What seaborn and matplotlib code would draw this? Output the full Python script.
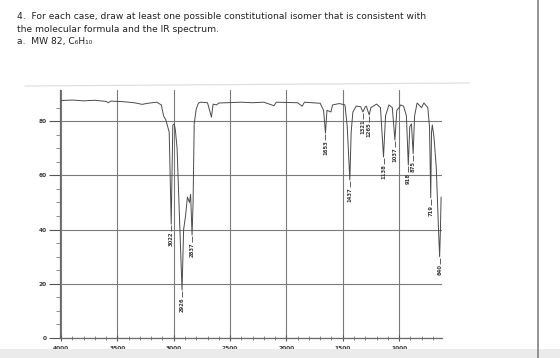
import numpy as np
import matplotlib.pyplot as plt
import seaborn as sns
from matplotlib.lines import Line2D
from matplotlib.patches import Rectangle

sns.set_theme(style="white")
plt.rcParams['font.family'] = ['DejaVu Sans']

# ---- texto del enunciado ----
question_lines = [
    "4.  For each case, draw at least one possible constitutional isomer that is consistent with",
    "the molecular formula and the IR spectrum.",
    "a.  MW 82, C\u2086H\u2081\u2080",
]

# ---- espectro IR ----
wavenumber = [4000, 3900, 3800, 3700, 3600, 3580, 3560, 3450, 3350, 3280, 3230, 3150,
              3110, 3090, 3070, 3040, 3022, 3008, 2995, 2985, 2970, 2945, 2926, 2912,
              2895, 2878, 2860, 2850, 2837, 2828, 2818, 2800, 2780, 2760, 2700, 2665,
              2650, 2620, 2600, 2400, 2300, 2200, 2110, 2090, 1900, 1860, 1840, 1700,
              1670, 1653, 1640, 1605, 1590, 1530, 1480, 1460, 1437, 1425, 1410, 1380,
              1340, 1321, 1300, 1290, 1265, 1250, 1200, 1165, 1138, 1120, 1090, 1060,
              1037, 1020, 1000, 985, 960, 935, 918, 905, 890, 875, 862, 840, 800, 780,
              745, 730, 719, 712, 705, 690, 670, 650, 640, 633, 627]
transmittance = [87.6, 87.8, 87.5, 87.7, 87.3, 86.8, 87.4, 87.2, 86.8, 86.2, 86.6, 87.0,
                 86.0, 82.0, 80.5, 76.0, 42.0, 78.5, 79.0, 76.7, 70.0, 40.0, 17.7, 40.0,
                 45.0, 52.0, 50.0, 53.0, 38.0, 50.0, 79.0, 84.5, 86.7, 87.0, 86.8, 81.5,
                 86.3, 86.0, 86.7, 87.0, 86.8, 87.0, 85.7, 87.0, 86.8, 85.5, 87.0, 86.6,
                 84.0, 75.6, 84.0, 83.4, 86.0, 86.5, 86.0, 78.0, 58.3, 76.0, 83.4, 85.6,
                 85.3, 83.4, 85.3, 85.5, 82.3, 85.0, 86.3, 85.0, 66.8, 82.0, 86.0, 85.0,
                 73.0, 84.0, 85.0, 86.0, 85.5, 82.0, 63.8, 78.0, 79.0, 68.0, 82.0, 86.7,
                 85.0, 86.7, 85.0, 78.0, 51.7, 76.0, 78.6, 74.0, 63.0, 40.0, 30.0, 40.0, 52.0]

peak_wn = [3022, 2926, 2837, 1653, 1437, 1321, 1265, 1138, 1037, 918, 875, 719, 640]
peak_t = [42.0, 17.7, 38.0, 75.6, 58.3, 83.4, 82.3, 66.8, 73.0, 63.8, 68.0, 51.7, 30.0]
peak_labels = ["3022", "2926", "2837", "1653", "1437", "1321", "1265",
               "1138", "1037", "918", "875", "719", "640"]

x_major = [4000, 3500, 3000, 2500, 2000, 1500, 1000]
y_major = [0, 20, 40, 60, 80]

fig = plt.figure(figsize=(5.6, 3.58), dpi=100)
fig.patch.set_facecolor('white')

# banda gris inferior y borde derecho del escaneo
fig.patches.append(Rectangle((0, 0), 1, 9 / 358, transform=fig.transFigure,
                             facecolor='#ebebeb', edgecolor='none', zorder=0))
fig.lines.append(Line2D([537.7 / 560] * 2, [0, 1], transform=fig.transFigure,
                        color='#8a8a8a', lw=1.3))
fig.lines.append(Line2D([25 / 560, 470 / 560], [1 - 86 / 358, 1 - 83 / 358],
                        transform=fig.transFigure, color='#dcdcdc', lw=0.8))

for i, line in enumerate(question_lines):
    fig.text(17 / 560, 1 - (12 + 12.5 * i) / 358, line, fontsize=6.6,
             color='#222222', va='top', ha='left')

ax = fig.add_axes([60 / 560, 20 / 358, 382 / 560, 248 / 358])
ax.set_facecolor('none')

sns.lineplot(x=wavenumber, y=transmittance, ax=ax, sort=False, estimator=None,
             color='#4a4a4a', lw=0.7)

ax.vlines(peak_wn, [t - 0.3 for t in peak_t], [t - 2.6 for t in peak_t],
          color='#4a4a4a', lw=0.6)
for wn, t, lab in zip(peak_wn, peak_t, peak_labels):
    ax.text(wn, t - 2.8, lab, rotation=90, ha='center', va='top',
            fontsize=3.8, fontweight='bold', color='#3a3a3a')

ax.set_xlim(4009, 619)
ax.set_ylim(0, 91.5)
ax.set_xticks(x_major)
ax.set_xticks(np.arange(4000, 600, -100), minor=True)
ax.set_yticks(y_major)
ax.set_yticks(np.arange(0, 90, 5), minor=True)
ax.grid(True, which='major', color='#7a7a7a', lw=0.8)
ax.tick_params(axis='both', which='major', labelsize=4.2, colors='#555555',
               labelcolor='#3a3a3a', width=0.8)
ax.tick_params(axis='y', which='major', direction='out', length=8, pad=1.5, left=True)
ax.tick_params(axis='y', which='minor', direction='out', length=3, width=0.6,
               color='#777777', left=True)
ax.tick_params(axis='x', which='major', direction='inout', length=4, pad=3.5, bottom=True)
ax.tick_params(axis='x', which='minor', direction='inout', length=3, width=0.6,
               color='#777777', bottom=True)
for lab in ax.get_xticklabels() + ax.get_yticklabels():
    lab.set_fontweight('bold')

for side in ['top', 'right']:
    ax.spines[side].set_visible(False)
for side in ['left', 'bottom']:
    ax.spines[side].set_color('#6a6a6a')
    ax.spines[side].set_linewidth(0.9)
ax.set_xlabel('')
ax.set_ylabel('')

fig.savefig('out.png', dpi=100)
